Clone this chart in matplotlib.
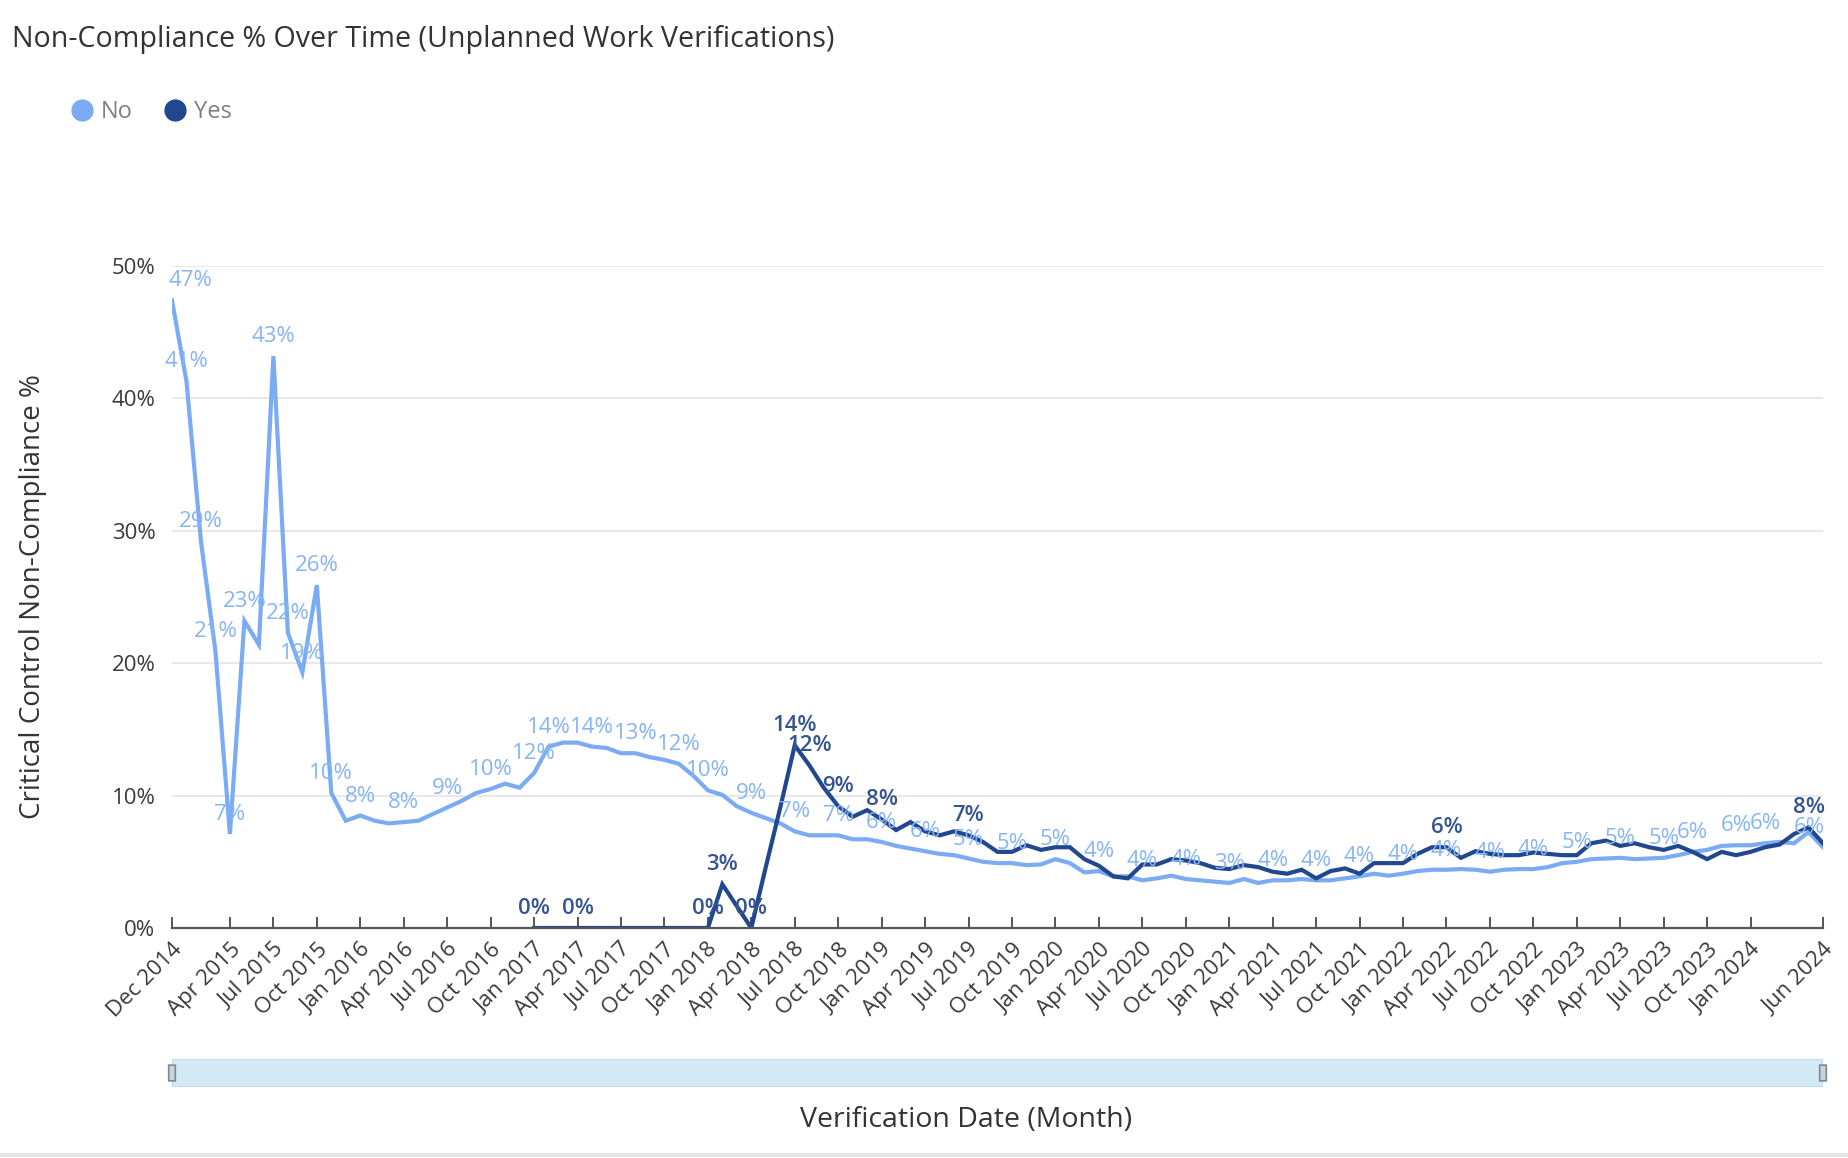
import numpy as np
import pandas as pd
import matplotlib
matplotlib.use("Agg")
import matplotlib.pyplot as plt
from matplotlib.lines import Line2D
from matplotlib.patches import FancyBboxPatch, Rectangle

plt.rcParams['font.family'] = ['Open Sans', 'DejaVu Sans']

# months Dec 2014 .. Jun 2024
months = pd.date_range("2014-12-01", periods=115, freq="MS")
x = np.arange(len(months))

# "No" series (%)
no_pct = [47.4, 41.3, 29.2, 20.9, 7.1, 23.2, 21.4, 43.2, 22.3, 19.3,
          25.9, 10.2, 8.1, 8.5, 8.1, 7.9, 8.0, 8.1, 8.6, 9.1,
          9.6, 10.2, 10.5, 10.9, 10.6, 11.7, 13.7, 14.0, 14.0, 13.7,
          13.6, 13.2, 13.2, 12.9, 12.7, 12.4, 11.5, 10.4, 10.05, 9.2,
          8.7, 8.3, 7.9, 7.3, 7.0, 7.0, 7.0, 6.7, 6.7, 6.5,
          6.2, 6.0, 5.8, 5.6, 5.5, 5.25, 5.0, 4.9, 4.9, 4.75,
          4.8, 5.2, 4.9, 4.2, 4.3, 3.9, 3.9, 3.6, 3.75, 3.95,
          3.7, 3.6, 3.5, 3.4, 3.7, 3.4, 3.6, 3.6, 3.7, 3.6,
          3.6, 3.75, 3.9, 4.1, 3.95, 4.1, 4.3, 4.4, 4.4, 4.45,
          4.4, 4.25, 4.4, 4.45, 4.45, 4.6, 4.9, 5.0, 5.2, 5.25,
          5.3, 5.2, 5.25, 5.3, 5.5, 5.75, 5.9, 6.2, 6.25, 6.25,
          6.4, 6.5, 6.4, 7.25, 6.1]

# "Yes" series (%), starts Jan 2017
yes_pct = [np.nan] * 25 + [
    0, 0, 0, 0, 0, 0, 0, 0, 0, 0,
    0, 0, 0, 3.3, 1.65, 0, 4.6, 9.1, 13.8, 12.3,
    10.6, 9.2, 8.4, 8.9, 8.2, 7.4, 8.0, 7.3, 7.0, 7.3,
    7.0, 6.5, 5.75, 5.75, 6.25, 5.9, 6.1, 6.1, 5.2, 4.7,
    3.9, 3.75, 4.8, 4.8, 5.2, 5.1, 4.9, 4.55, 4.45, 4.75,
    4.6, 4.25, 4.1, 4.4, 3.75, 4.3, 4.5, 4.1, 4.9, 4.9,
    4.9, 5.6, 6.1, 6.1, 5.3, 5.8, 5.6, 5.5, 5.5, 5.7,
    5.6, 5.5, 5.5, 6.4, 6.6, 6.2, 6.4, 6.1, 5.9, 6.2,
    5.75, 5.2, 5.75, 5.5, 5.75, 6.1, 6.3, 7.1, 7.6, 6.4]

no_label_idx = [0, 1, 2, 3, 4, 5, 7, 8, 9, 10, 11, 13, 16, 19, 22, 25, 26, 29,
                32, 35, 37, 40, 43, 46, 49, 52, 55, 58, 61, 64, 67, 70, 73, 76,
                79, 82, 85, 88, 91, 94, 97, 100, 103, 105, 108, 110, 114]
yes_label_idx = [25, 28, 37, 38, 40, 43, 44, 46, 49, 55, 88, 113]

tick_idx = [0] + list(range(4, 110, 3)) + [114]
tick_labels = [months[i].strftime("%b %Y") for i in tick_idx]

c_no = "#7aabf3"
c_yes = "#21478f"
c_no_txt = "#86b4f5"
c_yes_txt = "#355592"

fig = plt.figure(figsize=(18.49, 11.58), dpi=100)
ax = fig.add_axes([172/1849, 1-928/1158, (1823-172)/1849, (928-266)/1158])

ax.plot(x, no_pct, color=c_no, lw=3.0, solid_joinstyle='miter')
ax.plot(x, yes_pct, color=c_yes, lw=3.0, solid_joinstyle='miter')

for i in no_label_idx:
    dx = 0
    if i == 0:
        dx = 13
    if i == len(x) - 1:
        dx = -10
    ax.annotate(f"{round(no_pct[i])}%", (x[i], no_pct[i]), xytext=(dx, 14),
                textcoords='offset points', ha='center', va='center',
                fontsize=16, color=c_no_txt, annotation_clip=False)
for i in yes_label_idx:
    ax.annotate(f"{round(yes_pct[i])}%", (x[i], yes_pct[i]), xytext=(0, 14),
                textcoords='offset points', ha='center', va='center',
                fontsize=16, color=c_yes_txt, fontweight='semibold',
                annotation_clip=False)

ax.set_xlim(0, 114)
ax.set_ylim(0, 50)
ax.set_yticks([0, 10, 20, 30, 40, 50])
ax.set_yticklabels([f"{v}%" for v in [0, 10, 20, 30, 40, 50]])
ax.set_xticks(tick_idx)
ax.set_xticklabels(tick_labels, rotation=45, ha='right', rotation_mode='anchor')
ax.grid(axis='y', color='#e4e4e4', lw=1.2)
ax.set_axisbelow(True)
for s in ['top', 'right', 'left']:
    ax.spines[s].set_visible(False)
ax.spines['bottom'].set_color('#555555')
ax.spines['bottom'].set_linewidth(1.6)
ax.tick_params(axis='y', length=0, pad=12, labelsize=16, labelcolor='#3a3a3a')
ax.tick_params(axis='x', direction='in', length=8, width=1.4, color='#555555',
               pad=8, labelsize=16, labelcolor='#3a3a3a')

ax.set_ylabel("Critical Control Non-Compliance %", fontsize=20, color='#333333')
ax.yaxis.set_label_coords(-0.0755, 0.5)

fig.text(12/1849, 1-39/1158, "Non-Compliance % Over Time (Unplanned Work Verifications)",
         fontsize=20.6, color='#333333', ha='left', va='center')

handles = [Line2D([], [], marker='o', ls='none', color=c_no, markersize=15),
           Line2D([], [], marker='o', ls='none', color=c_yes, markersize=15)]
leg = fig.legend(handles, ["No", "Yes"], loc='center left',
                 bbox_to_anchor=(49/1849, 1-112/1158), ncol=2, frameon=False,
                 fontsize=17, handletextpad=0.3, columnspacing=1.3,
                 handlelength=1.0)
for t in leg.get_texts():
    t.set_color('#808080')

# range slider below
sax = fig.add_axes([172/1849, 1-1087/1158, (1823-172)/1849, 28/1158])
sax.set_xlim(0, 1)
sax.set_ylim(0, 1)
sax.add_patch(Rectangle((0, 0), 1, 1, facecolor='#d3e9f5', edgecolor='#c2dcea', lw=1.5))
for hx in [0.0, 1.0]:
    sax.add_patch(FancyBboxPatch((hx - 0.0012, 0.22), 0.0024, 0.56,
                                 boxstyle='round,pad=0.0008', facecolor='#c9d3d9',
                                 edgecolor='#7a8a95', lw=1.2, clip_on=False))
sax.axis('off')

fig.text(966/1849, 1-1120/1158, "Verification Date (Month)", fontsize=20.5,
         color='#333333', ha='center', va='center')

fig.add_artist(Line2D([0, 1], [1-1155/1158, 1-1155/1158], color='#e6e6e6', lw=3))

fig.savefig("out.png", dpi=100)
